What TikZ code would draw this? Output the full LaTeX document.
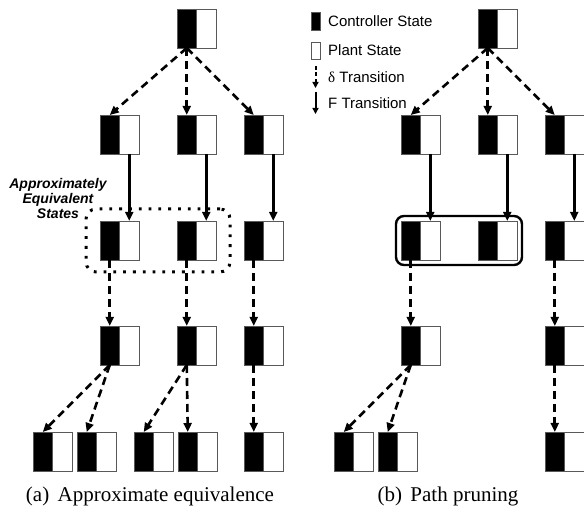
\documentclass[tikz,border=0pt]{standalone}
\usepackage{fontspec}
\setmainfont{Liberation Serif}
\setsansfont{Liberation Sans}
\usetikzlibrary{arrows.meta,positioning,fit}

\begin{document}
\begin{tikzpicture}[x=1pt, y=-1pt, node distance=0pt]
        \tikzstyle{ctrl}=[rectangle, draw=black!65, fill=black, line width=0.9pt, minimum width=19.5pt, minimum height=39pt, inner sep=0pt, outer sep=0pt]
        \tikzstyle{plant}=[ctrl, fill=white]
        \tikzstyle{delta}=[-{Triangle[length=9pt,width=8pt]}, line width=2.6pt, dash pattern=on 8pt off 5pt]
        \tikzstyle{ftrans}=[-{Triangle[length=9pt,width=8pt]}, line width=2.6pt]
        \tikzstyle{legtext}=[font=\sffamily\fontsize{15}{18}\selectfont, anchor=west, inner sep=0pt]
        \tikzstyle{caption}=[font=\rmfamily\fontsize{21}{25}\selectfont, anchor=base, inner sep=0pt]

        \useasboundingbox (0,0) rectangle (584,510);
        \clip (0,0) rectangle (584,510);

        % States (left and top edge of each pair)
        \foreach \n/\x/\y in {a1/177/9, a21/100/115, a22/177/115, a23/244/115,
                a31/100/221, a32/177/221, a33/244/221,
                a41/100/326, a42/177/326, a43/244/326,
                a51/33/432, a52/77/432, a53/134/432, a54/178/432, a55/244/432,
                b1/478/9, b21/401/115, b22/478/115, b23/545/115,
                b31/401/221, b32/478/221, b33/545/221,
                b41/401/326, b43/545/326,
                b51/334/432, b52/378/432, b55/545/432}{
            \node (\n-c) [ctrl] at (\x+9.75,\y+19.5) {};
            \node (\n-p) [plant, right = of \n-c] {};
        }

        % Delta transitions
        \foreach \s/\t in {a1/a21, a1/a22, a1/a23, a31/a41, a32/a42, a33/a43,
                a41/a51, a41/a52, a42/a53, a42/a54, a43/a55,
                b1/b21, b1/b22, b1/b23, b31/b41, b33/b43,
                b41/b51, b41/b52, b43/b55}
            \draw[delta] (\s-c.south) -- (\t-c.north);

        % F transitions
        \foreach \s/\t in {a21/a31, a22/a32, a23/a33, b21/b31, b22/b32, b23/b33}
            \draw[ftrans] (\s-p.south) -- (\t-p.north);

        % Grouping boxes
        \node (equiv) [fit=(a31-c)(a32-p), inner xsep=14pt, inner ysep=12pt, line width=3pt, dash pattern=on 2.8pt off 7pt, rounded corners=10pt, draw] {};
        \node (pruned) [fit=(b31-c)(b32-p), inner sep=5pt, line width=2.4pt, rounded corners=8pt, draw] {};
        \node (equivlabel) [font=\sffamily\bfseries\itshape\fontsize{14}{15}\selectfont, align=center, inner sep=0pt] at (58,198) {Approximately\\Equivalent\\States};

        % Legend
        \node (legc) [ctrl, minimum width=9pt, minimum height=18pt] at (315.5,21) {};
        \node (legct) [legtext] at (328,21) {Controller State};
        \node (legp) [plant, minimum width=9pt, minimum height=17pt] at (315.5,50.5) {};
        \node (legpt) [legtext] at (328,50.5) {Plant State};
        \coordinate (legd1) at (315.5,66);
        \coordinate (legd2) at (315.5,88);
        \draw[-{Triangle[length=6pt,width=6pt]}, line width=2pt, dash pattern=on 4pt off 2.5pt] (legd1) -- (legd2);
        \node (legdt) [legtext] at (328,77) {{\rmfamily δ} Transition};
        \coordinate (legf1) at (315.5,92);
        \coordinate (legf2) at (315.5,114);
        \draw[-{Triangle[length=6pt,width=6pt]}, line width=2pt] (legf1) -- (legf2);
        \node (legft) [legtext] at (328,103) {F Transition};

        % Captions
        \node (capa) [caption] at (150,502) {(a)\hspace{0.4em}Approximate equivalence};
        \node (capb) [caption] at (448,502) {(b)\hspace{0.4em}Path pruning};
    \end{tikzpicture}
\end{document}
